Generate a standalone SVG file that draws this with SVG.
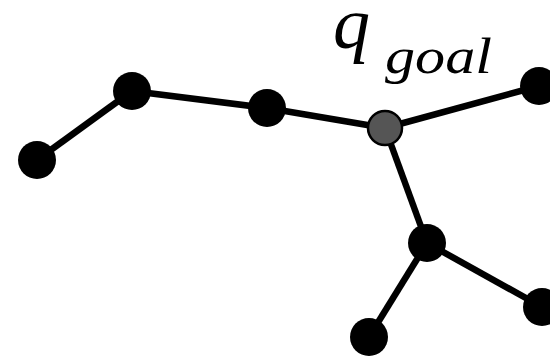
<svg xmlns="http://www.w3.org/2000/svg" width="550" height="359" viewBox="0 0 550 359">
<style>
.e{stroke:#000;stroke-width:6.5;fill:none}
.n{fill:#000}
.g{fill:#555;stroke:#000;stroke-width:2.5}
.t{font-family:"Liberation Serif","Times New Roman",serif;font-style:italic;fill:#000}
</style>
<rect width="550" height="359" fill="#fff"/>
<g id="edges">
<line class="e" x1="37" y1="160" x2="132" y2="91"/>
<line class="e" x1="132" y1="91" x2="267" y2="108"/>
<line class="e" x1="267" y1="108" x2="385" y2="128"/>
<line class="e" x1="385" y1="128" x2="539" y2="86"/>
<line class="e" x1="385" y1="128" x2="427" y2="243"/>
<line class="e" x1="427" y1="243" x2="369" y2="337"/>
<line class="e" x1="427" y1="243" x2="542" y2="307"/>
</g>
<g id="n1"><circle class="n" cx="37" cy="160" r="19"/></g>
<g id="n2"><circle class="n" cx="132" cy="91" r="19"/></g>
<g id="n3"><circle class="n" cx="267" cy="108" r="19"/></g>
<g id="goal"><circle class="g" cx="385" cy="128" r="17"/>
<text class="t" x="333" y="48" font-size="74">q</text>
<text class="t" x="385" y="73" font-size="50" textLength="107" lengthAdjust="spacingAndGlyphs">goal</text></g>
<g id="n4"><circle class="n" cx="539" cy="86" r="19"/></g>
<g id="n5"><circle class="n" cx="427" cy="243" r="19"/></g>
<g id="n6"><circle class="n" cx="369" cy="337" r="19"/></g>
<g id="n7"><circle class="n" cx="542" cy="307" r="19"/></g>
</svg>
